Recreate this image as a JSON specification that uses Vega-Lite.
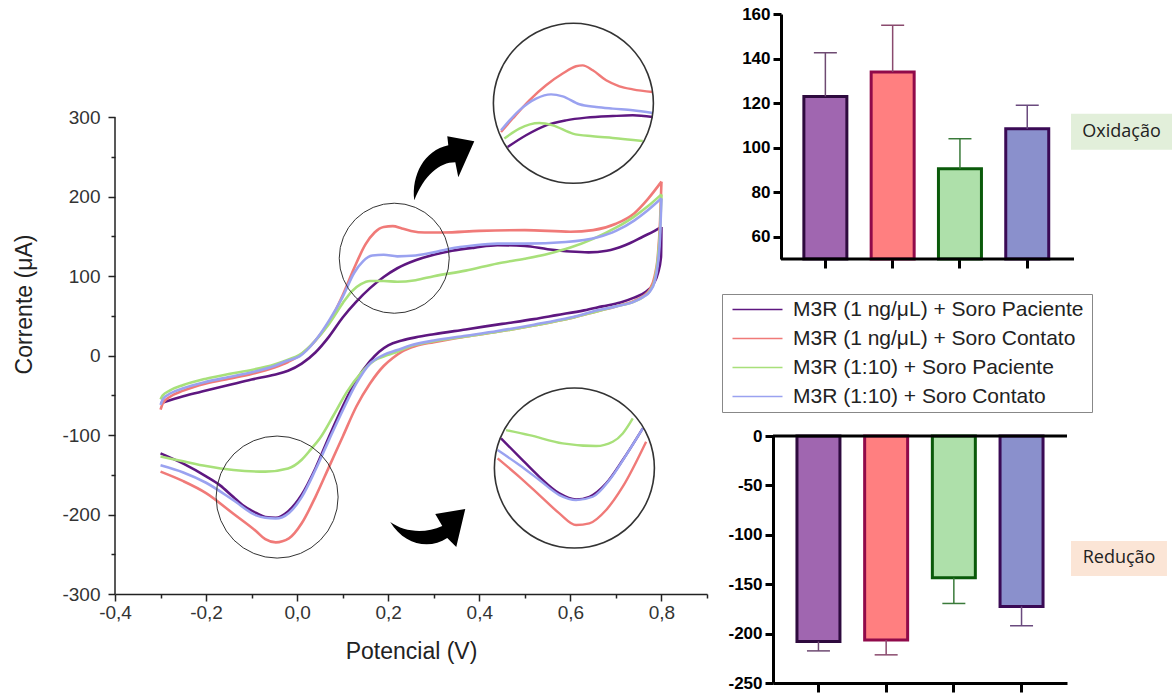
{
  "$schema": "https://vega.github.io/schema/vega-lite/v6.json",
  "background": "white",
  "padding": {"left": 13, "top": 5, "right": 0, "bottom": 0},
  "bounds": "flush",
  "spacing": 66,
  "config": {
    "view": {"stroke": null},
    "axis": {"grid": false, "labelFont": "Liberation Sans", "titleFont": "Liberation Sans", "titleFontWeight": "normal"}
  },
  "resolve": {
    "scale": {"color": "independent", "fill": "independent", "stroke": "independent"},
    "legend": {"color": "independent", "fill": "independent", "stroke": "independent"}
  },
  "hconcat": [
    {
      "width": 592,
      "height": 580,
      "layer": [
        {
          "data": {"values": [
            {"s":"a","b":"f","E":-0.3,"I":-60},{"s":"a","b":"f","E":-0.25,"I":-51},{"s":"a","b":"f","E":-0.2,"I":-44},{"s":"a","b":"f","E":-0.15,"I":-37},{"s":"a","b":"f","E":-0.1,"I":-30},{"s":"a","b":"f","E":-0.05,"I":-24},{"s":"a","b":"f","E":-0.02,"I":-19},{"s":"a","b":"f","E":0.01,"I":-10},{"s":"a","b":"f","E":0.04,"I":4},{"s":"a","b":"f","E":0.07,"I":24},{"s":"a","b":"f","E":0.1,"I":48},{"s":"a","b":"f","E":0.13,"I":68},{"s":"a","b":"f","E":0.16,"I":85},{"s":"a","b":"f","E":0.19,"I":99},{"s":"a","b":"f","E":0.22,"I":110},{"s":"a","b":"f","E":0.26,"I":120},{"s":"a","b":"f","E":0.3,"I":127},{"s":"a","b":"f","E":0.34,"I":132},{"s":"a","b":"f","E":0.39,"I":136},{"s":"a","b":"f","E":0.44,"I":139},{"s":"a","b":"f","E":0.5,"I":138},{"s":"a","b":"f","E":0.55,"I":134},{"s":"a","b":"f","E":0.6,"I":131},{"s":"a","b":"f","E":0.64,"I":130},{"s":"a","b":"f","E":0.68,"I":132},{"s":"a","b":"f","E":0.72,"I":139},{"s":"a","b":"f","E":0.76,"I":150},{"s":"a","b":"f","E":0.785,"I":157},{"s":"a","b":"f","E":0.8,"I":162},
            {"s":"a","b":"r","E":0.8,"I":162},{"s":"a","b":"r","E":0.799,"I":124},{"s":"a","b":"r","E":0.792,"I":103},{"s":"a","b":"r","E":0.782,"I":90},{"s":"a","b":"r","E":0.765,"I":80},{"s":"a","b":"r","E":0.74,"I":73},{"s":"a","b":"r","E":0.71,"I":67},{"s":"a","b":"r","E":0.67,"I":62},{"s":"a","b":"r","E":0.63,"I":57},{"s":"a","b":"r","E":0.57,"I":51},{"s":"a","b":"r","E":0.52,"I":46},{"s":"a","b":"r","E":0.45,"I":40},{"s":"a","b":"r","E":0.37,"I":33},{"s":"a","b":"r","E":0.3,"I":27},{"s":"a","b":"r","E":0.26,"I":23},{"s":"a","b":"r","E":0.23,"I":19},{"s":"a","b":"r","E":0.2,"I":13},{"s":"a","b":"r","E":0.18,"I":5},{"s":"a","b":"r","E":0.16,"I":-7},{"s":"a","b":"r","E":0.13,"I":-31},{"s":"a","b":"r","E":0.1,"I":-64},{"s":"a","b":"r","E":0.07,"I":-102},{"s":"a","b":"r","E":0.04,"I":-142},{"s":"a","b":"r","E":0.01,"I":-175},{"s":"a","b":"r","E":-0.02,"I":-196},{"s":"a","b":"r","E":-0.047,"I":-204},{"s":"a","b":"r","E":-0.07,"I":-203},{"s":"a","b":"r","E":-0.09,"I":-198},{"s":"a","b":"r","E":-0.12,"I":-188},{"s":"a","b":"r","E":-0.14,"I":-178},{"s":"a","b":"r","E":-0.17,"I":-163},{"s":"a","b":"r","E":-0.2,"I":-152},{"s":"a","b":"r","E":-0.25,"I":-136},{"s":"a","b":"r","E":-0.3,"I":-123},
            {"s":"b","b":"f","E":-0.3,"I":-68},{"s":"b","b":"f","E":-0.295,"I":-60},{"s":"b","b":"f","E":-0.28,"I":-52},{"s":"b","b":"f","E":-0.25,"I":-44},{"s":"b","b":"f","E":-0.2,"I":-35},{"s":"b","b":"f","E":-0.15,"I":-29},{"s":"b","b":"f","E":-0.1,"I":-23},{"s":"b","b":"f","E":-0.05,"I":-15},{"s":"b","b":"f","E":-0.02,"I":-8},{"s":"b","b":"f","E":0.01,"I":2},{"s":"b","b":"f","E":0.04,"I":19},{"s":"b","b":"f","E":0.07,"I":42},{"s":"b","b":"f","E":0.1,"I":76},{"s":"b","b":"f","E":0.125,"I":110},{"s":"b","b":"f","E":0.15,"I":140},{"s":"b","b":"f","E":0.17,"I":155},{"s":"b","b":"f","E":0.19,"I":162},{"s":"b","b":"f","E":0.21,"I":163},{"s":"b","b":"f","E":0.23,"I":160},{"s":"b","b":"f","E":0.25,"I":157},{"s":"b","b":"f","E":0.28,"I":155},{"s":"b","b":"f","E":0.32,"I":155},{"s":"b","b":"f","E":0.4,"I":157},{"s":"b","b":"f","E":0.5,"I":158},{"s":"b","b":"f","E":0.6,"I":156},{"s":"b","b":"f","E":0.65,"I":158},{"s":"b","b":"f","E":0.7,"I":166},{"s":"b","b":"f","E":0.74,"I":179},{"s":"b","b":"f","E":0.77,"I":197},{"s":"b","b":"f","E":0.8,"I":219},
            {"s":"b","b":"r","E":0.8,"I":219},{"s":"b","b":"r","E":0.797,"I":170},{"s":"b","b":"r","E":0.792,"I":125},{"s":"b","b":"r","E":0.785,"I":100},{"s":"b","b":"r","E":0.775,"I":84},{"s":"b","b":"r","E":0.76,"I":75},{"s":"b","b":"r","E":0.74,"I":69},{"s":"b","b":"r","E":0.7,"I":62},{"s":"b","b":"r","E":0.66,"I":56},{"s":"b","b":"r","E":0.6,"I":47},{"s":"b","b":"r","E":0.52,"I":38},{"s":"b","b":"r","E":0.44,"I":30},{"s":"b","b":"r","E":0.37,"I":24},{"s":"b","b":"r","E":0.3,"I":17},{"s":"b","b":"r","E":0.26,"I":12},{"s":"b","b":"r","E":0.23,"I":5},{"s":"b","b":"r","E":0.21,"I":-3},{"s":"b","b":"r","E":0.19,"I":-13},{"s":"b","b":"r","E":0.16,"I":-35},{"s":"b","b":"r","E":0.13,"I":-64},{"s":"b","b":"r","E":0.1,"I":-102},{"s":"b","b":"r","E":0.07,"I":-140},{"s":"b","b":"r","E":0.04,"I":-178},{"s":"b","b":"r","E":0.01,"I":-211},{"s":"b","b":"r","E":-0.018,"I":-230},{"s":"b","b":"r","E":-0.047,"I":-235},{"s":"b","b":"r","E":-0.07,"I":-231},{"s":"b","b":"r","E":-0.09,"I":-221},{"s":"b","b":"r","E":-0.14,"I":-199},{"s":"b","b":"r","E":-0.2,"I":-173},{"s":"b","b":"r","E":-0.25,"I":-158},{"s":"b","b":"r","E":-0.3,"I":-146},
            {"s":"c","b":"f","E":-0.3,"I":-55},{"s":"c","b":"f","E":-0.295,"I":-50},{"s":"c","b":"f","E":-0.28,"I":-44},{"s":"c","b":"f","E":-0.25,"I":-37},{"s":"c","b":"f","E":-0.2,"I":-29},{"s":"c","b":"f","E":-0.15,"I":-23},{"s":"c","b":"f","E":-0.1,"I":-18},{"s":"c","b":"f","E":-0.05,"I":-11},{"s":"c","b":"f","E":-0.02,"I":-5},{"s":"c","b":"f","E":0.005,"I":1},{"s":"c","b":"f","E":0.04,"I":19},{"s":"c","b":"f","E":0.07,"I":40},{"s":"c","b":"f","E":0.1,"I":66},{"s":"c","b":"f","E":0.12,"I":81},{"s":"c","b":"f","E":0.14,"I":90},{"s":"c","b":"f","E":0.16,"I":94},{"s":"c","b":"f","E":0.19,"I":94},{"s":"c","b":"f","E":0.22,"I":93},{"s":"c","b":"f","E":0.26,"I":95},{"s":"c","b":"f","E":0.3,"I":100},{"s":"c","b":"f","E":0.37,"I":107},{"s":"c","b":"f","E":0.44,"I":116},{"s":"c","b":"f","E":0.5,"I":122},{"s":"c","b":"f","E":0.55,"I":128},{"s":"c","b":"f","E":0.6,"I":136},{"s":"c","b":"f","E":0.65,"I":147},{"s":"c","b":"f","E":0.7,"I":161},{"s":"c","b":"f","E":0.74,"I":175},{"s":"c","b":"f","E":0.77,"I":188},{"s":"c","b":"f","E":0.8,"I":203},
            {"s":"c","b":"r","E":0.8,"I":203},{"s":"c","b":"r","E":0.797,"I":160},{"s":"c","b":"r","E":0.792,"I":122},{"s":"c","b":"r","E":0.785,"I":95},{"s":"c","b":"r","E":0.775,"I":82},{"s":"c","b":"r","E":0.76,"I":74},{"s":"c","b":"r","E":0.74,"I":68},{"s":"c","b":"r","E":0.7,"I":62},{"s":"c","b":"r","E":0.66,"I":56},{"s":"c","b":"r","E":0.6,"I":47},{"s":"c","b":"r","E":0.52,"I":38},{"s":"c","b":"r","E":0.44,"I":30},{"s":"c","b":"r","E":0.37,"I":24},{"s":"c","b":"r","E":0.3,"I":18},{"s":"c","b":"r","E":0.25,"I":12},{"s":"c","b":"r","E":0.22,"I":5},{"s":"c","b":"r","E":0.2,"I":1},{"s":"c","b":"r","E":0.17,"I":-6},{"s":"c","b":"r","E":0.14,"I":-22},{"s":"c","b":"r","E":0.11,"I":-45},{"s":"c","b":"r","E":0.08,"I":-75},{"s":"c","b":"r","E":0.05,"I":-104},{"s":"c","b":"r","E":0.03,"I":-118},{"s":"c","b":"r","E":0.01,"I":-131},{"s":"c","b":"r","E":-0.02,"I":-142},{"s":"c","b":"r","E":-0.07,"I":-146},{"s":"c","b":"r","E":-0.14,"I":-144},{"s":"c","b":"r","E":-0.2,"I":-139},{"s":"c","b":"r","E":-0.25,"I":-133},{"s":"c","b":"r","E":-0.3,"I":-127},
            {"s":"d","b":"f","E":-0.3,"I":-62},{"s":"d","b":"f","E":-0.295,"I":-55},{"s":"d","b":"f","E":-0.28,"I":-48},{"s":"d","b":"f","E":-0.25,"I":-41},{"s":"d","b":"f","E":-0.2,"I":-33},{"s":"d","b":"f","E":-0.15,"I":-27},{"s":"d","b":"f","E":-0.1,"I":-21},{"s":"d","b":"f","E":-0.05,"I":-13},{"s":"d","b":"f","E":-0.02,"I":-6},{"s":"d","b":"f","E":0.005,"I":-1},{"s":"d","b":"f","E":0.04,"I":19},{"s":"d","b":"f","E":0.07,"I":44},{"s":"d","b":"f","E":0.1,"I":74},{"s":"d","b":"f","E":0.125,"I":104},{"s":"d","b":"f","E":0.145,"I":119},{"s":"d","b":"f","E":0.165,"I":126},{"s":"d","b":"f","E":0.19,"I":127},{"s":"d","b":"f","E":0.22,"I":125},{"s":"d","b":"f","E":0.26,"I":126},{"s":"d","b":"f","E":0.3,"I":130},{"s":"d","b":"f","E":0.33,"I":134},{"s":"d","b":"f","E":0.39,"I":139},{"s":"d","b":"f","E":0.44,"I":141},{"s":"d","b":"f","E":0.5,"I":141},{"s":"d","b":"f","E":0.59,"I":143},{"s":"d","b":"f","E":0.66,"I":149},{"s":"d","b":"f","E":0.7,"I":157},{"s":"d","b":"f","E":0.74,"I":170},{"s":"d","b":"f","E":0.77,"I":183},{"s":"d","b":"f","E":0.8,"I":198},
            {"s":"d","b":"r","E":0.8,"I":198},{"s":"d","b":"r","E":0.797,"I":150},{"s":"d","b":"r","E":0.792,"I":115},{"s":"d","b":"r","E":0.785,"I":93},{"s":"d","b":"r","E":0.775,"I":81},{"s":"d","b":"r","E":0.76,"I":74},{"s":"d","b":"r","E":0.74,"I":68},{"s":"d","b":"r","E":0.7,"I":62},{"s":"d","b":"r","E":0.66,"I":57},{"s":"d","b":"r","E":0.6,"I":48},{"s":"d","b":"r","E":0.52,"I":39},{"s":"d","b":"r","E":0.44,"I":31},{"s":"d","b":"r","E":0.37,"I":25},{"s":"d","b":"r","E":0.3,"I":19},{"s":"d","b":"r","E":0.25,"I":13},{"s":"d","b":"r","E":0.22,"I":7},{"s":"d","b":"r","E":0.19,"I":1},{"s":"d","b":"r","E":0.16,"I":-10},{"s":"d","b":"r","E":0.13,"I":-35},{"s":"d","b":"r","E":0.1,"I":-69},{"s":"d","b":"r","E":0.07,"I":-106},{"s":"d","b":"r","E":0.04,"I":-144},{"s":"d","b":"r","E":0.01,"I":-178},{"s":"d","b":"r","E":-0.018,"I":-198},{"s":"d","b":"r","E":-0.047,"I":-205},{"s":"d","b":"r","E":-0.07,"I":-204},{"s":"d","b":"r","E":-0.09,"I":-201},{"s":"d","b":"r","E":-0.14,"I":-182},{"s":"d","b":"r","E":-0.2,"I":-160},{"s":"d","b":"r","E":-0.25,"I":-147},{"s":"d","b":"r","E":-0.3,"I":-138}
          ]},
          "mark": {"type": "line", "strokeWidth": 2.6, "interpolate": "monotone"},
          "encoding": {
            "x": {
              "field": "E", "type": "quantitative",
              "scale": {"domain": [-0.4, 0.9], "nice": false, "zero": false},
              "axis": {
                "title": "Potencial (V)",
                "titleFontSize": 23, "titleColor": "#222", "titlePadding": 18,
                "values": [-0.4, -0.3, -0.2, -0.1, 0, 0.1, 0.2, 0.3, 0.4, 0.5, 0.6, 0.7, 0.8, 0.9],
                "labelExpr": "abs(round(datum.value*10)) % 2 === 0 && datum.value < 0.85 ? (datum.value < -0.001 ? '-' : '') + replace(format(abs(datum.value), '.1f'), '.', ',') : ''",
                "labelFontSize": 19, "labelColor": "#333", "labelPadding": 2, "labelFlush": false, "labelOverlap": false,
                "tickSize": {"condition": {"test": "abs(round(datum.value*10)) % 2 === 0", "value": 7}, "value": 4},
                "tickColor": "#222", "tickWidth": 1.5, "domainColor": "#222", "domainWidth": 1.5
              }
            },
            "y": {
              "field": "I", "type": "quantitative",
              "scale": {"domain": [-300, 430], "nice": false, "zero": false},
              "axis": {
                "title": "Corrente (μA)",
                "titleFontSize": 23, "titleColor": "#222", "titlePadding": 25,
                "values": [-300, -250, -200, -150, -100, -50, 0, 50, 100, 150, 200, 250, 300],
                "labelExpr": "datum.value % 100 === 0 ? (datum.value < 0 ? '-' + abs(datum.value) : '' + datum.value) : ''",
                "labelFontSize": 19, "labelColor": "#333", "labelPadding": 8, "labelFlush": false, "labelOverlap": false,
                "tickSize": {"condition": {"test": "datum.value % 100 === 0", "value": 7}, "value": 4},
                "tickColor": "#222", "tickWidth": 1.5, "domain": false
              }
            },
            "color": {
              "field": "s", "type": "nominal",
              "scale": {"domain": ["a", "b", "c", "d"], "range": ["#5e1780", "#f07a78", "#a8e07a", "#9aa2f0"]},
              "legend": {
                "orient": "none", "legendX": 607, "legendY": 280,
                "title": "\u2003", "titleOrient": "right", "titleFontSize": 40, "titlePadding": 4,
                "labelExpr": "datum.label === 'a' ? 'M3R (1 ng/μL) + Soro Paciente' : datum.label === 'b' ? 'M3R (1 ng/μL) + Soro Contato' : datum.label === 'c' ? 'M3R (1:10) + Soro Paciente' : 'M3R (1:10) + Soro Contato'",
                "labelFont": "Liberation Sans", "labelFontSize": 21, "labelColor": "#222", "labelLimit": 400,
                "symbolType": "M-5,0H5", "symbolSize": 100, "symbolStrokeWidth": 1.5, "symbolOffset": 20, "labelOffset": 25,
                "rowPadding": 7, "padding": 5, "fillColor": "white", "strokeColor": "#888"
              }
            },
            "detail": {"field": "b"}
          }
        },
        {
          "data": {"values": [
            {"s":"a","z":"t","E":0.4622,"I":262.6},{"s":"a","z":"t","E":0.5026,"I":277.4},{"s":"a","z":"t","E":0.5466,"I":289.9},{"s":"a","z":"t","E":0.5905,"I":296.2},{"s":"a","z":"t","E":0.6345,"I":299.6},{"s":"a","z":"t","E":0.693,"I":301.6},{"s":"a","z":"t","E":0.737,"I":302.5},{"s":"a","z":"t","E":0.7809,"I":300.4},
            {"s":"b","z":"t","E":0.4477,"I":281.5},{"s":"b","z":"t","E":0.4733,"I":298.4},{"s":"b","z":"t","E":0.5099,"I":321.4},{"s":"b","z":"t","E":0.5466,"I":340.3},{"s":"b","z":"t","E":0.5831,"I":355.0},{"s":"b","z":"t","E":0.6125,"I":364.2},{"s":"b","z":"t","E":0.6271,"I":365.4},{"s":"b","z":"t","E":0.6491,"I":359.1},{"s":"b","z":"t","E":0.6785,"I":346.5},{"s":"b","z":"t","E":0.7077,"I":339.0},{"s":"b","z":"t","E":0.737,"I":335.2},{"s":"b","z":"t","E":0.7809,"I":331.8},
            {"s":"c","z":"t","E":0.4549,"I":273.2},{"s":"c","z":"t","E":0.4879,"I":285.8},{"s":"c","z":"t","E":0.5319,"I":292.8},{"s":"c","z":"t","E":0.5611,"I":289.9},{"s":"c","z":"t","E":0.6051,"I":279.5},{"s":"c","z":"t","E":0.6491,"I":276.1},{"s":"c","z":"t","E":0.693,"I":274.0},{"s":"c","z":"t","E":0.759,"I":270.2},
            {"s":"d","z":"t","E":0.4477,"I":283.6},{"s":"d","z":"t","E":0.4879,"I":308.8},{"s":"d","z":"t","E":0.5246,"I":323.5},{"s":"d","z":"t","E":0.5576,"I":328.9},{"s":"d","z":"t","E":0.5831,"I":326.4},{"s":"d","z":"t","E":0.6198,"I":316.4},{"s":"d","z":"t","E":0.6565,"I":313.0},{"s":"d","z":"t","E":0.693,"I":310.9},{"s":"d","z":"t","E":0.737,"I":308.8},{"s":"d","z":"t","E":0.7809,"I":305.4},
            {"s":"a","z":"u","E":0.4477,"I":-104.2},{"s":"a","z":"u","E":0.4879,"I":-127.3},{"s":"a","z":"u","E":0.5319,"I":-152.5},{"s":"a","z":"u","E":0.5758,"I":-173.3},{"s":"a","z":"u","E":0.6125,"I":-180.9},{"s":"a","z":"u","E":0.6418,"I":-177.6},{"s":"a","z":"u","E":0.6785,"I":-160.8},{"s":"a","z":"u","E":0.715,"I":-131.4},{"s":"a","z":"u","E":0.759,"I":-91.6},
            {"s":"b","z":"u","E":0.4402,"I":-129.3},{"s":"b","z":"u","E":0.4879,"I":-152.5},{"s":"b","z":"u","E":0.5319,"I":-175.5},{"s":"b","z":"u","E":0.5758,"I":-198.5},{"s":"b","z":"u","E":0.6125,"I":-213.2},{"s":"b","z":"u","E":0.6418,"I":-211.1},{"s":"b","z":"u","E":0.6785,"I":-194.3},{"s":"b","z":"u","E":0.715,"I":-165.0},{"s":"b","z":"u","E":0.7663,"I":-108.4},
            {"s":"c","z":"u","E":0.4587,"I":-93.7},{"s":"c","z":"u","E":0.5099,"I":-100.0},{"s":"c","z":"u","E":0.5831,"I":-110.4},{"s":"c","z":"u","E":0.6565,"I":-113.8},{"s":"c","z":"u","E":0.693,"I":-108.4},{"s":"c","z":"u","E":0.715,"I":-97.9},{"s":"c","z":"u","E":0.737,"I":-79.0},
            {"s":"d","z":"u","E":0.4402,"I":-118.9},{"s":"d","z":"u","E":0.4879,"I":-137.7},{"s":"d","z":"u","E":0.5319,"I":-156.6},{"s":"d","z":"u","E":0.5758,"I":-175.5},{"s":"d","z":"u","E":0.6125,"I":-181.8},{"s":"d","z":"u","E":0.6491,"I":-177.6},{"s":"d","z":"u","E":0.6857,"I":-156.6},{"s":"d","z":"u","E":0.7224,"I":-125.2},{"s":"d","z":"u","E":0.759,"I":-91.6}
          ]},
          "mark": {"type": "line", "strokeWidth": 2.4, "interpolate": "monotone"},
          "encoding": {
            "x": {"field": "E", "type": "quantitative"},
            "y": {"field": "I", "type": "quantitative"},
            "color": {"field": "s", "type": "nominal"},
            "detail": {"field": "z"}
          }
        },
        {
          "data": {"values": [{}]},
          "mark": {"type": "rule", "color": "#222", "strokeWidth": 1.5},
          "encoding": {"x": {"datum": -0.4}, "y": {"datum": -300}, "y2": {"datum": 300}}
        },
        {
          "data": {"values": [{}]},
          "mark": {"type": "point", "shape": "circle", "size": 12100, "filled": false, "stroke": "#333", "strokeWidth": 1, "opacity": 1},
          "encoding": {"x": {"datum": 0.2132}, "y": {"datum": 122.6}}
        },
        {
          "data": {"values": [{}]},
          "mark": {"type": "point", "shape": "circle", "size": 14884, "filled": false, "stroke": "#333", "strokeWidth": 1, "opacity": 1},
          "encoding": {"x": {"datum": -0.044}, "y": {"datum": -178}}
        },
        {
          "data": {"values": [{}]},
          "mark": {"type": "point", "shape": "circle", "size": 25600, "filled": false, "stroke": "#333", "strokeWidth": 1.6, "opacity": 1},
          "encoding": {"x": {"datum": 0.6066}, "y": {"datum": 317.6}}
        },
        {
          "data": {"values": [{}]},
          "mark": {"type": "point", "shape": "circle", "size": 25600, "filled": false, "stroke": "#333", "strokeWidth": 1.6, "opacity": 1},
          "encoding": {"x": {"datum": 0.6088}, "y": {"datum": -141.5}}
        },
        {
          "data": {"values": [{}]},
          "mark": {"type": "point", "shape": "M -30,32 C -33,7 -20,-18 4,-23 L 3,-32 L 30,-27 L 14,9 L 11,-6 C -5,-6 -20,7 -30,32 Z", "size": 4, "filled": true, "color": "black", "opacity": 1},
          "encoding": {"x": {"datum": 0.3231}, "y": {"datum": 235.8}}
        },
        {
          "data": {"values": [{}]},
          "mark": {"type": "point", "shape": "M -37,-6 C -23,17 2,22 20,10 L 29,19 L 38,-19 L 8,-14 L 15,-2 C -3,6 -23,4 -37,-6 Z", "size": 4, "filled": true, "color": "black", "opacity": 1},
          "encoding": {"x": {"datum": 0.2857}, "y": {"datum": -217.0}}
        }
      ]
    },
    {
      "bounds": "flush",
      "spacing": 177,
      "vconcat": [
        {
          "width": 301,
          "height": 245,
          "resolve": {"scale": {"x": "independent"}},
          "layer": [
            {
              "data": {"values": [
                {"g": "a", "v": 123, "e": 142.6},
                {"g": "b", "v": 134, "e": 155},
                {"g": "c", "v": 90.5, "e": 104},
                {"g": "d", "v": 108.5, "e": 119}
              ]},
              "layer": [
                {
                  "mark": {"type": "bar", "strokeWidth": 3},
                  "encoding": {
                    "x": {"field": "g", "type": "nominal",
                      "scale": {"domain": ["a", "b", "c", "d"], "paddingInner": 0.361, "paddingOuter": 0.417, "align": 0.55},
                      "axis": {"title": null, "labels": false, "domain": false, "tickSize": 9, "tickWidth": 3, "tickColor": "black"}},
                    "y": {"field": "v", "type": "quantitative",
                      "scale": {"domain": [50, 160], "nice": false, "zero": false},
                      "axis": {"title": null, "values": [60, 80, 100, 120, 140, 160], "offset": -8, "domainWidth": 3, "domainColor": "black", "tickWidth": 3, "tickSize": 8, "tickColor": "black", "labelFont": "Liberation Sans", "labelFontWeight": 700, "labelFontSize": 17, "labelColor": "black", "labelPadding": 3}},
                    "y2": {"datum": 50},
                    "fill": {"field": "g", "type": "nominal", "scale": {"domain": ["a", "b", "c", "d"], "range": ["#a066b0", "#ff7f80", "#aee0aa", "#8a90cc"]}, "legend": null},
                    "stroke": {"field": "g", "type": "nominal", "scale": {"domain": ["a", "b", "c", "d"], "range": ["#2e0a3e", "#900a4a", "#0a5a0a", "#3a0a55"]}, "legend": null}
                  }
                },
                {
                  "mark": {"type": "rule", "strokeWidth": 1.5},
                  "encoding": {
                    "x": {"field": "g", "type": "nominal"},
                    "y": {"field": "v", "type": "quantitative"},
                    "y2": {"field": "e"},
                    "color": {"field": "g", "type": "nominal", "scale": {"domain": ["a", "b", "c", "d"], "range": ["#6e4a72", "#8a4a6e", "#3a7a3a", "#6a4a7e"]}, "legend": null}
                  }
                },
                {
                  "mark": {"type": "tick", "orient": "horizontal", "size": 23, "thickness": 1.5, "opacity": 1},
                  "encoding": {
                    "x": {"field": "g", "type": "nominal"},
                    "y": {"field": "e", "type": "quantitative"},
                    "color": {"field": "g", "type": "nominal", "legend": null}
                  }
                }
              ]
            },
            {
              "data": {"values": [{}]},
              "layer": [
                {
                  "mark": {"type": "rule", "color": "black", "strokeWidth": 3},
                  "encoding": {
                    "x": {"datum": 0.0266, "type": "quantitative", "scale": {"domain": [0, 1], "nice": false, "zero": false}, "axis": null},
                    "x2": {"datum": 1},
                    "y": {"datum": 50, "type": "quantitative"}
                  }
                },
                {
                  "mark": {"type": "rect", "color": "#e2efda"},
                  "encoding": {
                    "x": {"datum": 0.99, "type": "quantitative", "scale": {"domain": [0, 1], "nice": false, "zero": false}, "axis": null},
                    "x2": {"datum": 1.3256},
                    "y": {"datum": 115.2, "type": "quantitative"},
                    "y2": {"datum": 99}
                  }
                },
                {
                  "mark": {"type": "text", "text": "Oxidação", "font": "Open Sans", "fontSize": 18, "color": "#222", "align": "center", "baseline": "middle"},
                  "encoding": {
                    "x": {"datum": 1.158, "type": "quantitative", "scale": {"domain": [0, 1], "nice": false, "zero": false}, "axis": null},
                    "y": {"datum": 107, "type": "quantitative"}
                  }
                }
              ]
            }
          ]
        },
        {
          "width": 294,
          "height": 247,
          "resolve": {"scale": {"x": "independent"}},
          "layer": [
            {
              "data": {"values": [
                {"g": "a", "v": -208, "e": -217.5},
                {"g": "b", "v": -206.5, "e": -221.5},
                {"g": "c", "v": -143.5, "e": -169.5},
                {"g": "d", "v": -172.5, "e": -192}
              ]},
              "layer": [
                {
                  "mark": {"type": "bar", "strokeWidth": 3},
                  "encoding": {
                    "x": {"field": "g", "type": "nominal",
                      "scale": {"domain": ["a", "b", "c", "d"], "paddingInner": 0.365, "paddingOuter": 0.354},
                      "axis": {"title": null, "labels": false, "domain": true, "domainWidth": 3, "domainColor": "black", "tickSize": 9, "tickWidth": 3, "tickColor": "black"}},
                    "y": {"field": "v", "type": "quantitative",
                      "scale": {"domain": [-250, 0], "nice": false, "zero": false},
                      "axis": {"title": null, "values": [0, -50, -100, -150, -200, -250], "labelExpr": "datum.value < 0 ? '-' + abs(datum.value) : '' + datum.value", "domainWidth": 3, "domainColor": "black", "tickWidth": 3, "tickSize": 8, "tickColor": "black", "labelFont": "Liberation Sans", "labelFontWeight": 700, "labelFontSize": 17, "labelColor": "black", "labelPadding": 3}},
                    "y2": {"datum": 0},
                    "fill": {"field": "g", "type": "nominal", "scale": {"domain": ["a", "b", "c", "d"], "range": ["#a066b0", "#ff7f80", "#aee0aa", "#8a90cc"]}, "legend": null},
                    "stroke": {"field": "g", "type": "nominal", "scale": {"domain": ["a", "b", "c", "d"], "range": ["#2e0a3e", "#900a4a", "#0a5a0a", "#3a0a55"]}, "legend": null}
                  }
                },
                {
                  "mark": {"type": "rule", "strokeWidth": 1.5},
                  "encoding": {
                    "x": {"field": "g", "type": "nominal"},
                    "y": {"field": "v", "type": "quantitative"},
                    "y2": {"field": "e"},
                    "color": {"field": "g", "type": "nominal", "scale": {"domain": ["a", "b", "c", "d"], "range": ["#6e4a72", "#8a4a6e", "#3a7a3a", "#6a4a7e"]}, "legend": null}
                  }
                },
                {
                  "mark": {"type": "tick", "orient": "horizontal", "size": 23, "thickness": 1.5, "opacity": 1},
                  "encoding": {
                    "x": {"field": "g", "type": "nominal"},
                    "y": {"field": "e", "type": "quantitative"},
                    "color": {"field": "g", "type": "nominal", "legend": null}
                  }
                }
              ]
            },
            {
              "data": {"values": [{}]},
              "layer": [
                {
                  "mark": {"type": "rule", "color": "black", "strokeWidth": 3},
                  "encoding": {
                    "x": {"datum": 0, "type": "quantitative", "scale": {"domain": [0, 1], "nice": false, "zero": false}, "axis": null},
                    "x2": {"datum": 1},
                    "y": {"datum": 0, "type": "quantitative"}
                  }
                },
                {
                  "mark": {"type": "rect", "color": "#fbe5d6"},
                  "encoding": {
                    "x": {"datum": 1.0136, "type": "quantitative", "scale": {"domain": [0, 1], "nice": false, "zero": false}, "axis": null},
                    "x2": {"datum": 1.34},
                    "y": {"datum": -106.3, "type": "quantitative"},
                    "y2": {"datum": -141.7}
                  }
                },
                {
                  "mark": {"type": "text", "text": "Redução", "font": "Open Sans", "fontSize": 18, "color": "#222", "align": "center", "baseline": "middle"},
                  "encoding": {
                    "x": {"datum": 1.177, "type": "quantitative", "scale": {"domain": [0, 1], "nice": false, "zero": false}, "axis": null},
                    "y": {"datum": -123.5, "type": "quantitative"}
                  }
                }
              ]
            }
          ]
        }
      ]
    }
  ]
}
